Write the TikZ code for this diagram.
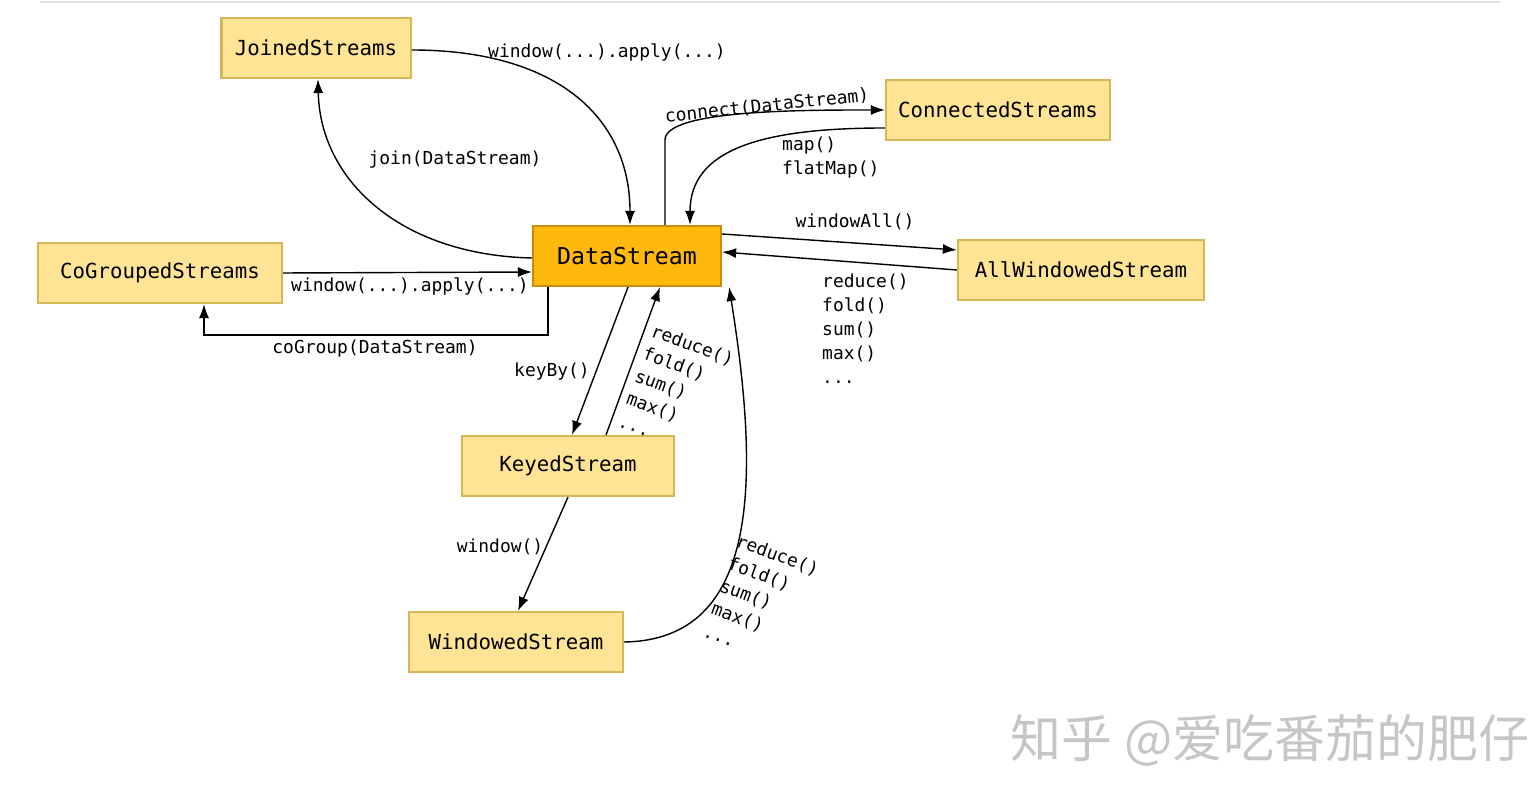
\documentclass[tikz,border=0pt]{standalone}
\usepackage{fontspec}
\setmonofont{DejaVu Sans Mono}
\newfontfamily\cjk{Noto Sans CJK SC}
\usetikzlibrary{arrows.meta,positioning,calc}
\definecolor{boxfill}{RGB}{255,228,150}
\definecolor{boxline}{RGB}{214,182,86}
\definecolor{dsfill}{RGB}{255,184,12}
\definecolor{dsline}{RGB}{200,140,10}

\begin{document}
\begin{tikzpicture}[x=0.01cm, y=-0.01cm,
    stream/.style={draw=boxline, fill=boxfill, line width=0.6pt, minimum height=0.6cm, inner sep=0pt, font=\ttfamily\fontsize{5.9pt}{6pt}\selectfont},
    lbl/.style={font=\ttfamily\fontsize{5.1pt}{6.8pt}\selectfont, inner sep=1pt},
    flow/.style={line width=0.4pt, -{Latex[length=1.4mm,width=1mm]}}]

\useasboundingbox (0,0) rectangle (1540,804);
\draw[gray!25, line width=0.5pt] (40,2) -- (1500,2);

% Streams
\node[stream, minimum width=1.89cm] (joined) at (316,48) {JoinedStreams};
\node[stream, minimum width=2.24cm] (connected) at (998,110) {ConnectedStreams};
\node[stream, minimum width=1.88cm, draw=dsline, fill=dsfill, font=\ttfamily\fontsize{6.6pt}{7pt}\selectfont] (ds) at (627,256) {DataStream};
\node[stream, minimum width=2.44cm] (cogrouped) at (160,273) {CoGroupedStreams};
\node[stream, minimum width=2.46cm] (allwin) at (1081,270) {AllWindowedStream};
\node[stream, minimum width=2.12cm] (keyed) at (568,466) {KeyedStream};
\node[stream, minimum width=2.14cm] (windowed) at (516,642) {WindowedStream};

% Joined
\draw[flow] ($(joined.east)+(0,2)$) .. controls (560,50) and (630,120) .. ($(ds.north)+(3,0)$);
\node[lbl] at (607,53) {window(...).apply(...)};
\draw[flow] ($(ds.west)+(0,2)$) .. controls (400,255) and (320,180) .. ($(joined.south)+(2,0)$);
\node[lbl] at (455,160) {join(DataStream)};

% Connected
\draw[flow, rounded corners=0.2cm] ($(ds.north)+(38,0)$) -- (665,160) .. controls (665,110) and (800,110) .. ($(connected.west)+(0,0)$);
\node[lbl, rotate=6] at (767,106) {connect(DataStream)};
\draw[flow] ($(connected.west)+(0,18)$) .. controls (760,128) and (690,150) .. ($(ds.north)+(63,0)$);
\node[lbl, align=left, anchor=north west] at (778,133) {map()\\flatMap()};

% AllWindowed
\draw[flow] ($(ds.east)+(0,-22)$) -- ($(allwin.west)+(0,-20)$);
\node[lbl] at (855,222) {windowAll()};
\draw[flow] ($(allwin.west)+(0,0)$) -- ($(ds.east)+(0,-4)$);
\node[lbl, align=left, anchor=north west] at (818,270) {reduce()\\fold()\\sum()\\max()\\...};

% CoGrouped
\draw[flow] (cogrouped.east) -- ($(ds.west)+(0,16)$);
\node[lbl] at (410,287) {window(...).apply(...)};
\draw[flow] ($(ds.south)+(-79,0)$) -- (548,335) -- (204,335) -- ($(cogrouped.south)+(44,0)$);
\node[lbl] at (375,349) {coGroup(DataStream)};

% Keyed
\draw[flow] ($(ds.south)+(1,0)$) -- ($(keyed.north)+(4,0)$);
\node[lbl] at (552,372) {keyBy()};
\draw[flow] ($(keyed.north)+(38,0)$) -- ($(ds.south)+(33,0)$);
\node[lbl, align=left, rotate=-20, anchor=north west] at (652,318) {reduce()\\fold()\\sum()\\max()\\...};

% Windowed
\draw[flow] ($(keyed.south)+(0,0)$) -- ($(windowed.north)+(2,0)$);
\node[lbl] at (500,547) {window()};
\draw[flow] (windowed.east) .. controls (760,640) and (760,480) .. ($(ds.south east)+(7,0)$);
\node[lbl, align=left, rotate=-20, anchor=north west] at (737,528) {reduce()\\fold()\\sum()\\max()\\...};

\node[text=gray!45, font=\cjk\fontsize{14.5pt}{16pt}\selectfont] (mark) at (1270,740) {知乎 @爱吃番茄的肥仔};
\end{tikzpicture}
\end{document}
